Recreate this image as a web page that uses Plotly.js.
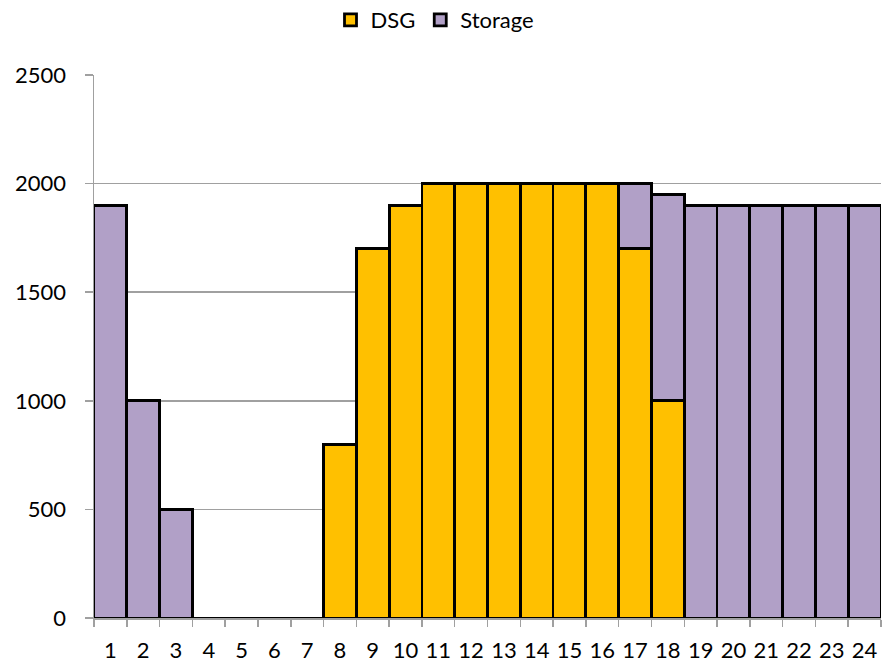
<!DOCTYPE html>
<html><head><meta charset="utf-8">
<script src="https://cdn.plot.ly/plotly-3.0.1.min.js"></script>
<style>html,body{margin:0;padding:0;background:#fff}</style>
</head><body><div id="chart" style="width:894px;height:670px"></div>
<script>
const hours = ['1','2','3','4','5','6','7','8','9','10','11','12','13','14','15','16','17','18','19','20','21','22','23','24'];
const dsg = [0,0,0,0,0,0,0,800,1700,1900,2000,2000,2000,2000,2000,2000,1700,1000,0,0,0,0,0,0];
const storage = [1900,1000,500,0,0,0,0,0,0,0,0,0,0,0,0,0,300,950,1900,1900,1900,1900,1900,1900];
const yTicks = [0,500,1000,1500,2000,2500];

const line = {color:'#000000', width:2.8};
const data = [
  {type:'bar', name:'DSG', x:hours, y:dsg, marker:{color:'#FFC000', line:line}},
  {type:'bar', name:'Storage', x:hours, y:storage, marker:{color:'#B1A0C7', line:line}}
];
const font = {family:'Lato, "Open Sans", sans-serif', size:22, color:'#000'};
const layout = {
  width:894, height:670,
  margin:{l:94, r:13, t:74.5, b:52, pad:0, autoexpand:false},
  barmode:'stack', bargap:0,
  paper_bgcolor:'#fff', plot_bgcolor:'#fff',
  font:font,
  showlegend:true,
  legend:{orientation:'h', x:0.5 - 12/894, xanchor:'center', xref:'container', yref:'container', y:1-20/670, yanchor:'middle',
          font:{family:font.family, size:22, color:'#000'}, itemwidth:30, traceorder:'normal'},
  xaxis:{type:'category', showgrid:false, showline:true, linecolor:'#A0A0A0', linewidth:1.5, automargin:false,
         ticks:'outside', tickson:'boundaries', ticklen:7, tickcolor:'#A0A0A0', tickwidth:1.5, tickangle:0,
         tickfont:font, zeroline:false, ticklabelstandoff:12},
  yaxis:{range:[0,2500], tickvals:yTicks, ticktext:yTicks.map(String), showgrid:true, gridcolor:'#A0A0A0', gridwidth:1.5,
         showline:true, linecolor:'#A0A0A0', linewidth:1.5, ticks:'outside', ticklen:8, tickcolor:'#A0A0A0', tickwidth:1.5,
         tickfont:font, zeroline:false, ticklabelstandoff:14, automargin:false}
};
Plotly.newPlot('chart', data, layout, {displayModeBar:false, staticPlot:true});
</script></body></html>
